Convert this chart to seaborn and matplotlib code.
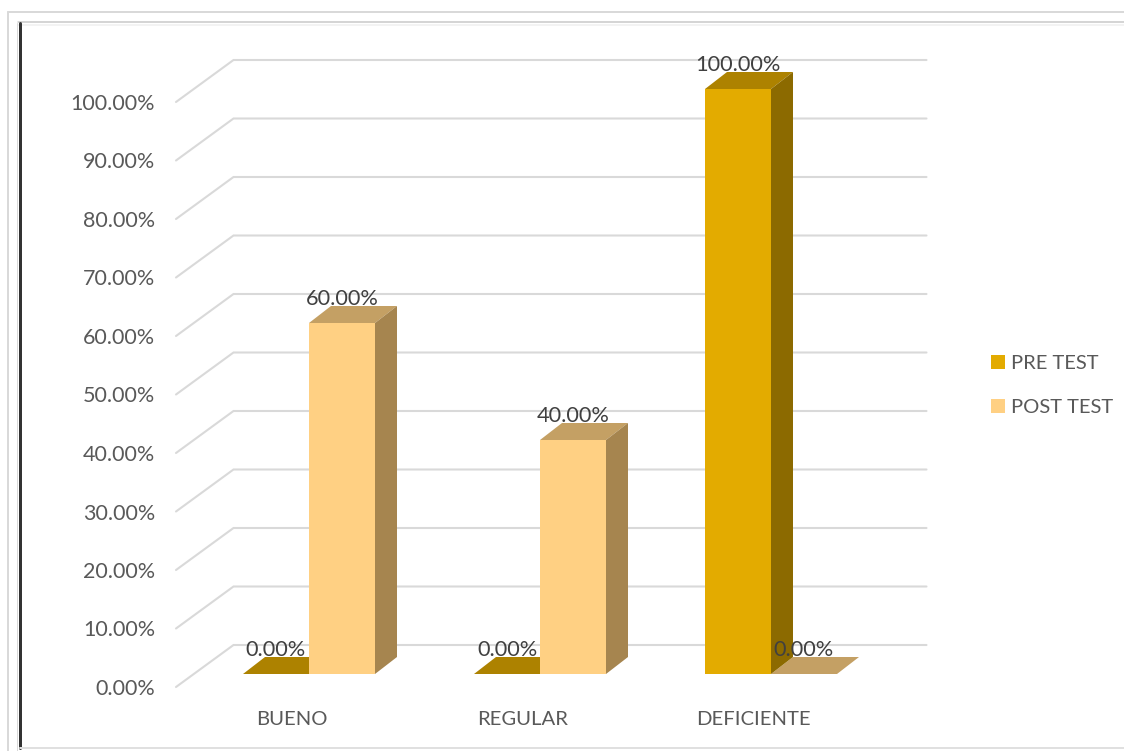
import pandas as pd
import matplotlib
matplotlib.use('Agg')
import matplotlib.pyplot as plt
from matplotlib.lines import Line2D
from matplotlib.patches import Polygon
import seaborn as sns

categories = ['BUENO', 'REGULAR', 'DEFICIENTE']
series_names = ['PRE TEST', 'POST TEST']
pre_test = [0, 0, 100]
post_test = [60, 40, 0]
y_ticks = [0, 10, 20, 30, 40, 50, 60, 70, 80, 90, 100]

front_colors = ['#E3AB00', '#FFD083']
top_colors = ['#AD8200', '#C4A064']
side_colors = ['#8C6A00', '#A6854F']

W, H = 1124, 751
PX_CAT = 231.0   # pixels per category
PX_VAL = 5.85    # pixels per percent

sns.set_theme(style='white')
plt.rcParams['font.family'] = ['Lato', 'DejaVu Sans']

df = pd.DataFrame({
    'cat': categories * 2,
    'serie': [series_names[0]] * 3 + [series_names[1]] * 3,
    'valor': pre_test + post_test,
})

fig = plt.figure(figsize=(W / 100, H / 100), dpi=100, facecolor='white')


def make_axes(left, bottom_y):
    # pixel position measured from the top left of the picture
    return fig.add_axes([left / W, (H - bottom_y) / H, 3 * PX_CAT / W, 100 * PX_VAL / H])


# front plane of the 3D box, carries the ticks and the wall lines
wall = make_axes(176, 687)
wall.set_xlim(-0.5, 2.5)
wall.set_ylim(0, 100)
sns.despine(ax=wall, left=True, bottom=True)
wall.set_xticks(range(3), categories)
wall.set_yticks(y_ticks, [f'{v:.2f}%' for v in y_ticks])
wall.tick_params(axis='y', length=0, pad=15, labelsize=15.5, labelcolor='#595959')
wall.tick_params(axis='x', length=0, pad=17.5, labelsize=14.6, labelcolor='#595959')

depth_x = 57.5 / PX_CAT
depth_y = 42 / PX_VAL
for v in y_ticks:
    wall.plot([-0.5, -0.5 + depth_x, 2.5 + depth_x], [v, v + depth_y, v + depth_y],
              color='#D9D9D9', lw=1.5, clip_on=False, solid_joinstyle='miter')

# bars stand a bit behind the front plane
ax = make_axes(193.5, 674)
ax.patch.set_alpha(0)
sns.barplot(data=df, x='cat', y='valor', hue='serie', palette=front_colors,
            width=132 / PX_CAT, gap=0, saturation=1, linewidth=0, ax=ax, zorder=5)
ax.set_xlim(-0.5, 2.5)
ax.set_ylim(0, 100)
ax.axis('off')

bar_dx = 22 / PX_CAT
bar_dy = 17 / PX_VAL
for i, cont in enumerate(ax.containers):
    for bar in cont:
        bar.set_clip_on(False)
        x0 = bar.get_x()
        x1 = x0 + bar.get_width()
        top = bar.get_height()
        ax.add_patch(Polygon([(x0, top), (x1, top), (x1 + bar_dx, top + bar_dy), (x0 + bar_dx, top + bar_dy)],
                             color=top_colors[i], lw=0, clip_on=False, zorder=3))
        if top > 0:
            ax.add_patch(Polygon([(x1, 0), (x1 + bar_dx, bar_dy), (x1 + bar_dx, top + bar_dy), (x1, top)],
                                 color=side_colors[i], lw=0, clip_on=False, zorder=4))
        ax.annotate(f'{top:.2f}%', (x0 + bar.get_width() / 2, top), xytext=(0, 17),
                    textcoords='offset points', ha='center', va='center',
                    fontsize=15.7, color='#404040', annotation_clip=False, zorder=6)

sns.move_legend(ax, loc='center left', bbox_to_anchor=(973 / W, (H - 385.5) / H),
                bbox_transform=fig.transFigure, title=None, frameon=False,
                fontsize=14.5, labelcolor='#595959', handlelength=0.7, handleheight=0.65,
                handletextpad=0.3, labelspacing=1.35)
ax.get_legend().set_visible(True)

# chart frame, copied from the screenshot look
frame = [
    ([8, 1124], [12, 12], '#D9D9D9', 2),
    ([8, 8], [12, 751], '#D9D9D9', 2),
    ([18, 1124], [22, 22], '#C8C8C8', 1.5),
    ([18, 1124], [25, 25], '#F0F0F0', 1.5),
    ([20, 20], [23, 748], '#333333', 3),
    ([17, 17], [23, 751], '#D9D9D9', 1),
    ([20, 1124], [748, 748], '#E0E0E0', 2),
]
for xs, ys, col, px in frame:
    fig.add_artist(Line2D([x / W for x in xs], [(H - y) / H for y in ys],
                          color=col, lw=px * 0.72, transform=fig.transFigure))

fig.savefig('out.png', dpi=100)
